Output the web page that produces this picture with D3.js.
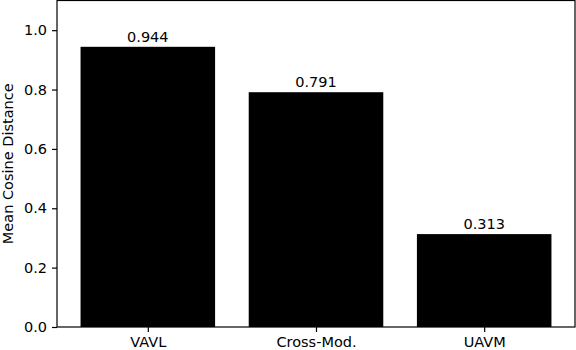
<!DOCTYPE html>
<html>
<head>
<meta charset="utf-8">
<script src="https://cdn.jsdelivr.net/npm/d3@7"></script>
<style>
  html, body { margin: 0; padding: 0; background: #fff; }
  svg { display: block; }
  text { font-family: "DejaVu Sans", sans-serif; fill: #000; }
</style>
</head>
<body>
<svg id="chart" width="576" height="350"></svg>
<script>
// data
const categories = ['VAVL', 'Cross-Mod.', 'UAVM'];
const values = [0.944, 0.791, 0.313];
const valueLabels = ['0.944', '0.791', '0.313'];
const yTicks = [0.0, 0.2, 0.4, 0.6, 0.8, 1.0];

const svg = d3.select('#chart');
const fontSize = 14.5;

// plot area (pixel box of the axes)
const plotLeft = 57, plotRight = 575, plotTop = 0.5, plotBottom = 327;
const barWidth = 0.8;

const x = d3.scaleLinear()
    .domain([-0.54, categories.length - 1 + 0.54])
    .range([plotLeft, plotRight]);
const y = d3.scaleLinear()
    .domain([0, 1.1])
    .range([plotBottom, plotTop]);

// bars
svg.append('g')
    .selectAll('rect')
    .data(values)
    .join('rect')
    .attr('x', (d, i) => x(i - barWidth / 2))
    .attr('width', (d, i) => x(i + barWidth / 2) - x(i - barWidth / 2))
    .attr('y', d => y(d))
    .attr('height', d => y(0) - y(d))
    .attr('fill', '#000');

// value labels above bars
svg.append('g')
    .selectAll('text')
    .data(values)
    .join('text')
    .attr('x', (d, i) => x(i))
    .attr('y', d => y(d) - 5)
    .attr('text-anchor', 'middle')
    .attr('font-size', fontSize)
    .text((d, i) => valueLabels[i]);

// y axis
const yAxis = d3.axisLeft(y)
    .tickValues(yTicks)
    .tickFormat(d3.format('.1f'))
    .tickSize(5)
    .tickPadding(5);
const gy = svg.append('g')
    .attr('transform', `translate(${plotLeft},0)`)
    .call(yAxis);
gy.select('.domain').remove();
gy.selectAll('.tick line').attr('stroke', '#000').attr('stroke-width', 1.2);
gy.selectAll('.tick text')
    .attr('font-size', fontSize)
    .attr('font-family', '"DejaVu Sans", sans-serif');

// x axis
const xAxis = d3.axisBottom(x)
    .tickValues(d3.range(categories.length))
    .tickFormat(i => categories[i])
    .tickSize(5)
    .tickPadding(5);
const gx = svg.append('g')
    .attr('transform', `translate(0,${plotBottom})`)
    .call(xAxis);
gx.select('.domain').remove();
gx.selectAll('.tick line').attr('stroke', '#000').attr('stroke-width', 1.2);
gx.selectAll('.tick text')
    .attr('font-size', fontSize)
    .attr('font-family', '"DejaVu Sans", sans-serif');

// frame (all four spines)
svg.append('rect')
    .attr('x', plotLeft)
    .attr('y', plotTop)
    .attr('width', plotRight - plotLeft)
    .attr('height', plotBottom - plotTop)
    .attr('fill', 'none')
    .attr('stroke', '#000')
    .attr('stroke-width', 1.2);

// y label
svg.append('text')
    .attr('transform', `translate(12.5,${(plotTop + plotBottom) / 2}) rotate(-90)`)
    .attr('text-anchor', 'middle')
    .attr('font-size', fontSize)
    .text('Mean Cosine Distance');
</script>
</body>
</html>
